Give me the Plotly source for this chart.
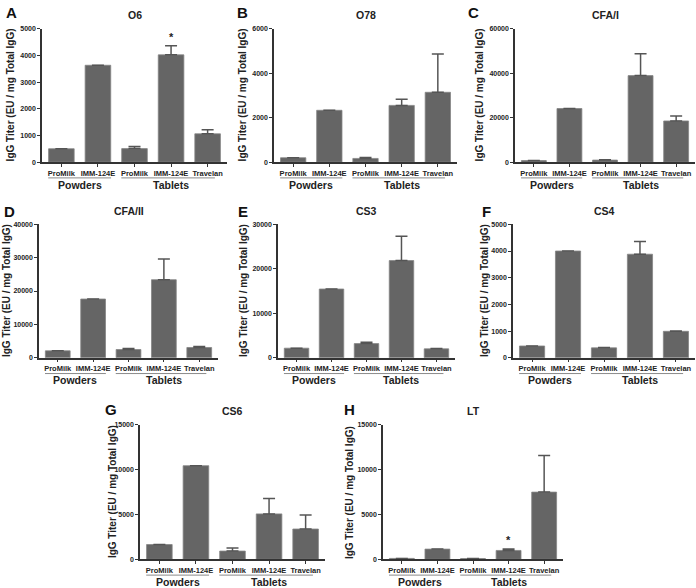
import plotly.graph_objects as go

# categories under each panel
labels = ["ProMilk", "IMM-124E", "ProMilk", "IMM-124E", "Travelan"]
group_names = ["Powders", "Tablets"]

# mean IgG titer (EU / mg total IgG) and upper error (SEM)
o6 = [500, 3630, 505, 4020, 1060]
o6_err = [None, None, 75, 345, 150]
o78 = [195, 2330, 165, 2550, 3140]
o78_err = [None, None, 40, 280, 1720]
cfa1 = [700, 24100, 900, 38900, 18500]
cfa1_err = [None, None, 150, 9800, 2200]
cfa2 = [2080, 17600, 2470, 23400, 3070]
cfa2_err = [None, None, 300, 6200, 300]
cs3 = [2150, 15450, 3180, 21850, 2000]
cs3_err = [None, None, 300, 5500, 80]
cs4 = [440, 4000, 370, 3880, 990]
cs4_err = [None, None, 15, 480, 15]
cs6 = [1650, 10450, 920, 5070, 3380]
cs6_err = [None, None, 330, 1730, 1580]
lt = [100, 1140, 80, 990, 7500]
lt_err = [None, None, None, 150, 4100]

W, H = 696, 588
FONT = "Liberation Sans, Arial, sans-serif"
BAR = "#656565"
AXC = "#333333"
XR = [-0.53, 4.53]
xs = [0, 1, 2, 3, 4]

# letter, title, values, errors, ymax, dtick, star index, plot box in px (x0, x1, ytop, yzero), letter pos, ytitle x
panels = [
    ("A", "O6", o6, o6_err, 5000, 1000, 3, (42, 227, 25, 160), (4, 9), 10),
    ("B", "O78", o78, o78_err, 6000, 2000, None, (274, 457, 25, 160), (235, 9), 242),
    ("C", "CFA/I", cfa1, cfa1_err, 60000, 20000, None, (515, 695, 25, 160), (466, 9), 479),
    ("D", "CFA/II", cfa2, cfa2_err, 40000, 10000, None, (39, 218, 223, 358), (2, 210), 6),
    ("E", "CS3", cs3, cs3_err, 30000, 10000, None, (278, 455, 223, 358), (236, 210), 243),
    ("F", "CS4", cs4, cs4_err, 5000, 1000, None, (513, 695, 223, 358), (480, 210), 484),
    ("G", "CS6", cs6, cs6_err, 15000, 5000, None, (140, 325, 426, 562), (103, 410), 112),
    ("H", "LT", lt, lt_err, 15000, 5000, 3, (383, 563, 426, 562), (342, 410), 349),
]


def px(x):
    return x / W


def py(y):
    return 1 - y / H


def xdom(v):
    return (v - XR[0]) / (XR[1] - XR[0])


fig = go.Figure()
shapes = []
annotations = []

for i, (letter, title, vals, errs, ymax, dtick, star, box, lpos, ytx) in enumerate(panels):
    n = "" if i == 0 else str(i + 1)
    x0, x1, yt, yb = box
    hpx = yb - yt

    fig.add_trace(go.Bar(
        x=xs, y=vals, width=0.7, xaxis="x" + n, yaxis="y" + n,
        marker=dict(color=BAR, line=dict(width=0.8, color="#858585")),
        error_y=dict(type="data", symmetric=False, array=errs,
                     arrayminus=[None if e is None else 0 for e in errs],
                     color="#555555", thickness=1.5, width=6),
        hoverinfo="y",
    ))

    fig.layout["xaxis" + n] = dict(
        domain=[px(x0), px(x1)], anchor="y" + n, range=XR, fixedrange=True,
        tickvals=xs, ticktext=labels, tickangle=0, ticks="outside", ticklen=3, tickwidth=1,
        tickcolor=AXC, showline=True, linecolor=AXC, linewidth=1.5,
        showgrid=False, zeroline=False,
        tickfont=dict(family=FONT, size=7.5, color="#222", weight="bold"),
    )
    fig.layout["yaxis" + n] = dict(
        domain=[py(yb), py(yt)], anchor="x" + n, range=[0, ymax], fixedrange=True,
        tick0=0, dtick=dtick, tickformat="d", ticks="outside", ticklen=3, tickwidth=1,
        tickcolor=AXC, showline=True, linecolor=AXC, linewidth=1.5,
        showgrid=False, zeroline=False,
        tickfont=dict(family=FONT, size=7, color="#222", weight="bold"),
    )

    # group underlines and group names
    for (a, b), c, name in zip([(-0.36, 1.36), (1.64, 4.2)], [0.5, 3.0], group_names):
        shapes.append(dict(
            type="line", xref="x" + n + " domain", yref="y" + n + " domain",
            x0=xdom(a), x1=xdom(b), y0=-16 / hpx, y1=-16 / hpx,
            line=dict(color="#8a8a8a", width=1),
        ))
        annotations.append(dict(
            xref="x" + n, yref="y" + n + " domain", x=c, y=-23 / hpx,
            text=name, showarrow=False, xanchor="center", yanchor="middle",
            font=dict(family=FONT, size=10.5, color="#222", weight="bold"),
        ))

    # panel title
    annotations.append(dict(
        xref="paper", yref="paper", x=px((x0 + x1) / 2), y=py(yt - 14),
        text=title, showarrow=False, xanchor="center", yanchor="middle",
        font=dict(family=FONT, size=10.5, color="#222", weight="bold"),
    ))
    # panel letter
    annotations.append(dict(
        xref="paper", yref="paper", x=px(lpos[0]), y=py(lpos[1]),
        text=letter, showarrow=False, xanchor="left", yanchor="middle",
        font=dict(family=FONT, size=15, color="#111", weight="bold"),
    ))
    # y axis title
    annotations.append(dict(
        xref="paper", yref="paper", x=px(ytx), y=py((yt + yb) / 2),
        text="IgG Titer (EU / mg Total IgG)", showarrow=False, textangle=-90,
        xanchor="center", yanchor="middle",
        font=dict(family=FONT, size=10, color="#222", weight="bold"),
    ))
    # significance star
    if star is not None:
        top = vals[star] + (errs[star] or 0)
        annotations.append(dict(
            xref="x" + n, yref="y" + n, x=star, y=top, yshift=1,
            text="*", showarrow=False, xanchor="center", yanchor="bottom",
            font=dict(family=FONT, size=11, color="#222", weight="bold"),
        ))

fig.update_layout(
    width=W, height=H, margin=dict(l=0, r=0, t=0, b=0),
    plot_bgcolor="#ffffff", paper_bgcolor="#ffffff",
    showlegend=False, shapes=shapes, annotations=annotations,
)

# drop the default page margin so the 696x588 figure fills the window exactly
fig.write_html("out.html", config=dict(displayModeBar=False),
               post_script="document.body.style.margin='0';document.body.style.overflow='hidden';")
